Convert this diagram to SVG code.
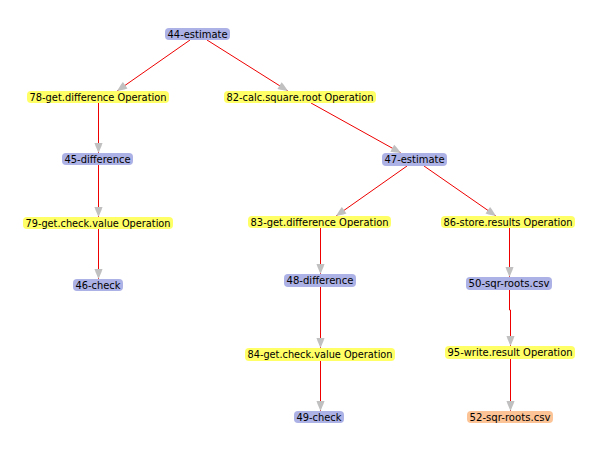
<svg xmlns="http://www.w3.org/2000/svg" width="591" height="455" viewBox="0 0 591 455">
<defs>
<marker id="arr" markerUnits="userSpaceOnUse" markerWidth="11" markerHeight="10" refX="10" refY="4.5" orient="auto" overflow="visible">
<path d="M0,0.5 L3,1.5 L10,4.5 L3,7.5 L0,8.5 Z" fill="#c0c0c0"/>
</marker>
<style>
.e{stroke:#ee0000;stroke-width:1;fill:none;marker-end:url(#arr)}
.b{fill:#adb2e6}
.y{fill:#ffff66}
.o{fill:#fcc496}
text{font-family:"DejaVu Sans","Liberation Sans",sans-serif;font-size:10.5px;fill:#000;text-anchor:middle}
</style>
</defs>
<rect width="591" height="455" fill="#ffffff"/>
<g id="connectors">
<line class="e" x1="190" y1="40" x2="117" y2="91"/>
<line class="e" x1="207" y1="40" x2="288" y2="91"/>
<line class="e" x1="98.5" y1="103" x2="98.5" y2="153"/>
<line class="e" x1="98.5" y1="165" x2="98.5" y2="217"/>
<line class="e" x1="98.5" y1="229" x2="98.5" y2="279"/>
<line class="e" x1="311" y1="103" x2="401" y2="153"/>
<line class="e" x1="407" y1="166" x2="336" y2="216"/>
<line class="e" x1="424" y1="166" x2="496" y2="216"/>
<line class="e" x1="320.5" y1="228" x2="320.5" y2="274"/>
<line class="e" x1="320.5" y1="287" x2="320.5" y2="348"/>
<line class="e" x1="320.5" y1="361" x2="320.5" y2="411"/>
<line class="e" x1="509.5" y1="228" x2="509.5" y2="277"/>
<polyline class="e" points="509.5,290 509.5,310 510.5,310 510.5,346"/>
<line class="e" x1="510.5" y1="359" x2="510.5" y2="411"/>
</g>
<g id="n44"><rect class="b" x="165" y="28" width="65" height="12" rx="4"/><text x="197.5" y="37.8" textLength="60" lengthAdjust="spacingAndGlyphs">44-estimate</text></g>
<g id="n78"><rect class="y" x="27" y="91" width="142" height="12" rx="4"/><text x="98" y="100.8" textLength="137" lengthAdjust="spacingAndGlyphs">78-get.difference Operation</text></g>
<g id="n82"><rect class="y" x="224" y="91" width="152" height="12" rx="4"/><text x="300" y="100.8" textLength="147" lengthAdjust="spacingAndGlyphs">82-calc.square.root Operation</text></g>
<g id="n45"><rect class="b" x="62" y="153" width="71" height="12" rx="4"/><text x="97.5" y="162.8" textLength="66" lengthAdjust="spacingAndGlyphs">45-difference</text></g>
<g id="n47"><rect class="b" x="382" y="153" width="65" height="13" rx="4"/><text x="414.5" y="163.3" textLength="60" lengthAdjust="spacingAndGlyphs">47-estimate</text></g>
<g id="n79"><rect class="y" x="23" y="217" width="150" height="12" rx="4"/><text x="98" y="226.8" textLength="145" lengthAdjust="spacingAndGlyphs">79-get.check.value Operation</text></g>
<g id="n46"><rect class="b" x="73" y="279" width="50" height="12" rx="4"/><text x="98" y="288.8" textLength="45" lengthAdjust="spacingAndGlyphs">46-check</text></g>
<g id="n83"><rect class="y" x="248" y="216" width="143" height="12" rx="4"/><text x="319.5" y="225.8" textLength="138" lengthAdjust="spacingAndGlyphs">83-get.difference Operation</text></g>
<g id="n86"><rect class="y" x="441" y="216" width="134" height="12" rx="4"/><text x="508" y="225.8" textLength="129" lengthAdjust="spacingAndGlyphs">86-store.results Operation</text></g>
<g id="n48"><rect class="b" x="284" y="274" width="72" height="13" rx="4"/><text x="320" y="284.3" textLength="67" lengthAdjust="spacingAndGlyphs">48-difference</text></g>
<g id="n50"><rect class="b" x="466" y="277" width="86" height="13" rx="4"/><text x="509" y="287.3" textLength="81" lengthAdjust="spacingAndGlyphs">50-sqr-roots.csv</text></g>
<g id="n84"><rect class="y" x="245" y="348" width="150" height="13" rx="4"/><text x="320" y="358.3" textLength="145" lengthAdjust="spacingAndGlyphs">84-get.check.value Operation</text></g>
<g id="n95"><rect class="y" x="445" y="346" width="130" height="13" rx="4"/><text x="510" y="356.3" textLength="125" lengthAdjust="spacingAndGlyphs">95-write.result Operation</text></g>
<g id="n49"><rect class="b" x="294" y="411" width="50" height="12" rx="4"/><text x="319" y="420.8" textLength="45" lengthAdjust="spacingAndGlyphs">49-check</text></g>
<g id="n52"><rect class="o" x="467" y="411" width="86" height="12" rx="4"/><text x="510" y="420.8" textLength="81" lengthAdjust="spacingAndGlyphs">52-sqr-roots.csv</text></g>
</svg>
